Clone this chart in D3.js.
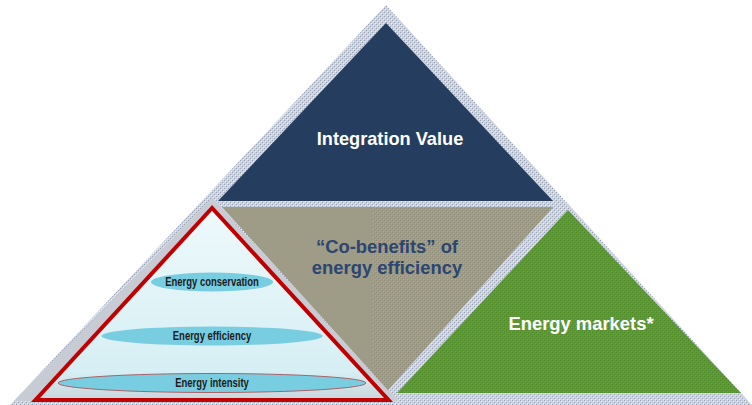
<!DOCTYPE html>
<html>
<head>
<meta charset="utf-8">
<script src="https://cdn.jsdelivr.net/npm/d3@7"></script>
<style>
  body { margin: 0; background: #fff; }
  svg { display: block; }
</style>
</head>
<body>
<div id="chart"></div>
<script>
/*
  Energy efficiency pyramid diagram
*/

var width = 752, height = 405;

// labels of the three big panels
var panelNames = ["Integration Value", "“Co-benefits” of|energy efficiency", "Energy markets*"];
// the tiers inside the left pyramid, top to bottom
var tierNames = ["Energy conservation", "Energy efficiency", "Energy intensity"];

var navy = "#253d5e", khaki = "#9e9c87", green = "#5d9933", red = "#c00000";

// slide coordinates -> screen
var x = d3.scaleLinear().domain([0, 752]).range([0, width]),
    y = d3.scaleLinear().domain([0, 405]).range([0, height]);

// where each tier sits down the left pyramid
var tierY = d3.scaleOrdinal().domain(tierNames).range([282, 336, 383]);

function tri(pts){
  return "M" + pts.map(function(p){ return x(p[0]) + "," + y(p[1]); }).join("L") + "Z";
}

var svg = d3.select("#chart").append("svg")
  .attr("width", width)
  .attr("height", height);

var defs = svg.append("defs");

//Textures
function dotPattern(id, base, dot, light){
  var p = defs.append("pattern")
    .attr("id", id)
    .attr("width", 4).attr("height", 4)
    .attr("patternUnits", "userSpaceOnUse");
  p.append("rect").attr("width", 4).attr("height", 4).attr("fill", base);
  p.append("rect").attr("x", 0).attr("y", 0).attr("width", 1).attr("height", 1).attr("fill", dot);
  p.append("rect").attr("x", 2).attr("y", 2).attr("width", 1).attr("height", 1).attr("fill", dot);
  if(light){
    p.append("rect").attr("x", 1).attr("y", 1).attr("width", 1).attr("height", 1).attr("fill", light);
    p.append("rect").attr("x", 3).attr("y", 3).attr("width", 1).attr("height", 1).attr("fill", light);
  }
}
dotPattern("frame", "#cdd3de", "#98a1b4", "#eceef3");
dotPattern("greenTex", green, "#4f872b", "#67a43b");
dotPattern("khakiTex", khaki, "#8d8b77", "#aeac97");

var grad = defs.append("linearGradient")
  .attr("id", "skyFill")
  .attr("x1", 0).attr("y1", 0).attr("x2", 0).attr("y2", 1);
grad.append("stop").attr("offset", "0%").attr("stop-color", "#eef9fb");
grad.append("stop").attr("offset", "85%").attr("stop-color", "#d6eff4");
grad.append("stop").attr("offset", "100%").attr("stop-color", "#c9d6dc");

//Outer frame
svg.append("path")
  .attr("d", tri([[386, 5], [10, 405], [752, 405]]))
  .attr("fill", "url(#frame)");

//Grey backing of the left pyramid
svg.append("path")
  .attr("d", tri([[212, 198], [14, 401], [398, 401]]))
  .attr("fill", "#c7cbd3");

//Top panel
svg.append("path")
  .attr("d", tri([[386, 23], [218, 201], [553, 201]]))
  .attr("fill", navy);

//Middle inverted panel
var mid = [[222, 207], [553, 207], [388, 390]];
defs.append("clipPath").attr("id", "midClip")
  .append("path").attr("d", tri(mid));
svg.append("path")
  .attr("d", tri(mid))
  .attr("fill", khaki);
svg.append("rect")
  .attr("clip-path", "url(#midClip)")
  .attr("x", x(373)).attr("y", y(205))
  .attr("width", x(560) - x(373)).attr("height", y(392) - y(205))
  .attr("fill", "url(#khakiTex)");

//Right panel
svg.append("path")
  .attr("d", tri([[568, 210], [397, 393], [741, 393]]))
  .attr("fill", "url(#greenTex)");

//Left pyramid
var apex = [212, 208], base = 400, halfBase = 176.5;
svg.append("path")
  .attr("d", tri([apex, [apex[0] - halfBase, base], [apex[0] + halfBase, base]]))
  .attr("fill", "url(#skyFill)");

// width of the pyramid at a given height
function halfWidth(py){
  return (py - apex[1]) / (base - apex[1]) * halfBase;
}

var tiers = svg.selectAll(".tier")
  .data(tierNames)
  .enter().append("g")
    .attr("class", "tier");

tiers.append("ellipse")
  .attr("cx", x(apex[0]))
  .attr("cy", function(d){ return y(tierY(d)); })
  .attr("rx", function(d){ return x(halfWidth(tierY(d)) - 7); })
  .attr("ry", 9.5)
  .attr("fill", "#79cde0")
  .attr("stroke", function(d, i){ return i == tierNames.length - 1 ? "#a8646a" : "none"; })
  .attr("stroke-width", 1);

// narrow type, squeezed horizontally
tiers.append("text")
  .attr("transform", function(d){
    return "translate(" + x(apex[0]) + "," + y(tierY(d)) + ") scale(0.79,1)";
  })
  .attr("dy", "0.36em")
  .attr("text-anchor", "middle")
  .style("font-family", "'Liberation Sans', Arial, sans-serif")
  .style("font-weight", "bold")
  .style("font-size", "12px")
  .style("fill", "#1b1b1b")
  .text(function(d){ return d; });

svg.append("path")
  .attr("d", tri([apex, [apex[0] - halfBase, base], [apex[0] + halfBase, base]]))
  .attr("fill", "none")
  .attr("stroke", red)
  .attr("stroke-width", 4)
  .attr("stroke-linejoin", "miter");

//Panel labels
var labelPos = [[390, 145, "#ffffff", 18.2], [387, 253, "#2c4571", 18.4], [581, 330, "#ffffff", 18.4]];

svg.selectAll(".panel-label")
  .data(panelNames)
  .enter().append("text")
    .attr("class", "panel-label")
    .attr("text-anchor", "middle")
    .style("font-family", "'Liberation Sans', Arial, sans-serif")
    .style("font-weight", "bold")
    .style("font-size", function(d, i){ return labelPos[i][3] + "px"; })
    .style("fill", function(d, i){ return labelPos[i][2]; })
    .html(function(d, i){
      return d.split("|").map(function(el, j){
        return "<tspan x='" + x(labelPos[i][0]) + "' y='" + y(labelPos[i][1] + j * 21) + "'>" + el + "</tspan>";
      }).join("");
    });
</script>
</body>
</html>
